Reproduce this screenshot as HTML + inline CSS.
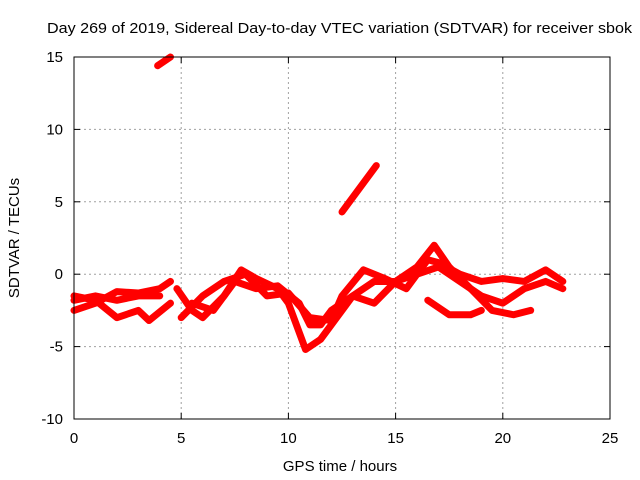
<!DOCTYPE html>
<html><head><meta charset="utf-8"><style>
body{margin:0;background:#fff}
svg{display:block;font-family:"Liberation Sans",sans-serif;font-size:15px}
</style></head><body>
<svg id="chart" width="640" height="480">
<text x="47" y="33" textLength="585" lengthAdjust="spacingAndGlyphs">Day 269 of 2019, Sidereal Day-to-day VTEC variation (SDTVAR) for receiver sbok</text>
<text x="340" y="471" text-anchor="middle">GPS time / hours</text>
<text transform="translate(19,238) rotate(-90)" text-anchor="middle">SDTVAR / TECUs</text>
<g id="grid"></g>
<g id="ticks"></g>
<g id="series"></g>
<rect x="74" y="57" width="536" height="362" fill="none" stroke="#000"/>
</svg>
<script>
const xTicks=[0,5,10,15,20,25];
const yTicks=[-10,-5,0,5,10,15];
const s1=[[0,-2.5],[1,-2],[2,-1.2],[3,-1.3],[4,-1],[4.5,-0.5]];
const s2=[[0,-1.5],[1,-1.8],[2,-3],[3,-2.5],[3.5,-3.2],[4.5,-2]];
const s3=[[4.8,-1],[5.5,-2.5],[6,-3],[7,-1.5],[7.8,0.3],[8.5,-0.3],[9.5,-1],[10,-2],[10.8,-5.2],[11.5,-4.5],[12,-3.5],[13,-1.5],[14,-0.5],[15,-0.5],[16,0.5],[16.8,2],[17.5,0.5],[18.5,-1],[19.5,-2.5],[20.5,-2.8],[21.3,-2.5]];
const s4=[[5,-3],[6,-1.5],[7,-0.5],[8,0],[9,-1.5],[10,-1.3],[11,-3],[12,-3.2],[12.5,-1.5],[13.5,0.3],[14.5,-0.3],[15.5,-1],[16.5,1],[17,0.8],[18,0],[19,-0.5],[20,-0.3],[21,-0.5],[22,0.3],[22.8,-0.5]];
const s5=[[5.5,-2],[6.5,-2.5],[7.5,-0.5],[8.5,-1],[9.5,-0.8],[10.5,-2],[11,-3.5],[11.5,-3.5],[12,-2.5],[13,-1.5],[14,-2],[15,-0.5],[16,0],[17,0.5],[18,-0.5],[19,-1.5],[20,-2],[21,-1],[22,-0.5],[22.8,-1]];
const s6=[[16.5,-1.8],[17.5,-2.8],[18.5,-2.8],[19,-2.5]];
const s7=[[0,-1.8],[1,-1.5],[2,-1.8],[3,-1.5],[4,-1.5]];
const s8=[[3.9,14.4],[4.5,15]];
const s9=[[12.5,4.3],[13,5.3],[13.5,6.3],[14.1,7.5]];
const allSeries=[s1,s2,s3,s4,s5,s6,s7,s8,s9];
const X=v=>74+v*536/25, Y=v=>274.2-v*362/25;
const NS='http://www.w3.org/2000/svg';
const g=document.getElementById('grid'),t=document.getElementById('ticks'),sg=document.getElementById('series');
function mk(tag,attrs,parent){const e=document.createElementNS(NS,tag);for(const k in attrs)e.setAttribute(k,attrs[k]);parent.appendChild(e);return e;}
xTicks.forEach(v=>{const x=X(v);
 if(v>0&&v<25){const l=mk('line',{x1:x,x2:x,y1:57,y2:419,stroke:'#a0a0a0','stroke-dasharray':'2,3'},g);}
 mk('line',{x1:x,x2:x,y1:419,y2:413,stroke:'#000'},t);mk('line',{x1:x,x2:x,y1:57,y2:63,stroke:'#000'},t);
 const tx=mk('text',{x:x,y:443,'text-anchor':'middle'},t);tx.textContent=v;
 
 });
yTicks.forEach(v=>{const y=Y(v);
 if(v>-10&&v<15){const l=mk('line',{x1:74,x2:610,y1:y,y2:y,stroke:'#a0a0a0','stroke-dasharray':'2,3'},g);}
 mk('line',{x1:74,x2:80,y1:y,y2:y,stroke:'#000'},t);mk('line',{x1:604,x2:610,y1:y,y2:y,stroke:'#000'},t);
 const tx=mk('text',{x:63,y:y+5,'text-anchor':'end'},t);tx.textContent=v;
 
 });
allSeries.forEach((s,i)=>{
 const p=mk('polyline',{points:s.map(d=>X(d[0])+','+Y(d[1])).join(' '),fill:'none',stroke:'#f00','stroke-width':7,'stroke-linejoin':'round','stroke-linecap':'round'},sg);
 
 
});
</script>
</body></html>
